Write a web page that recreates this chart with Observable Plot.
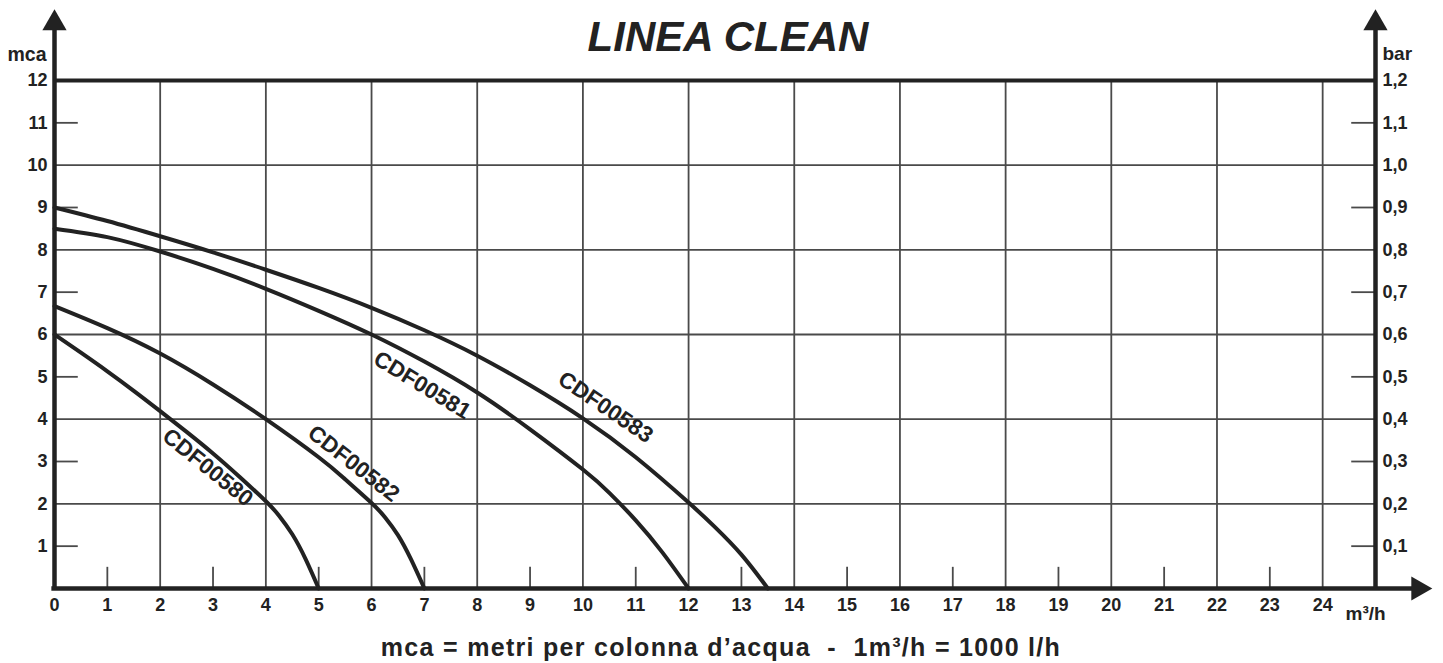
<!DOCTYPE html>
<html><head><meta charset="utf-8">
<script src="https://cdn.jsdelivr.net/npm/d3@7"></script>
<script src="https://cdn.jsdelivr.net/npm/@observablehq/plot@0.6"></script>
<style>body{margin:0;background:#fff} svg{display:block} svg text{white-space:pre}</style>
</head><body><div id="chart"></div>
<script>
// ---- data ----
const title = "LINEA CLEAN";
const caption = "mca = metri per colonna d\u2019acqua  -  1m\u00b3/h = 1000 l/h";
const models = ["CDF00580", "CDF00582", "CDF00581", "CDF00583"];

const q580 = [0, 0.5, 1, 1.5, 2, 2.5, 3, 3.5, 4, 4.25, 4.5, 4.75, 5];
const h580 = [6.0, 5.57, 5.13, 4.67, 4.19, 3.7, 3.19, 2.64, 2.06, 1.72, 1.28, 0.7, 0];
const q582 = [0, 1, 2, 3, 4, 5, 5.5, 6, 6.25, 6.5, 6.75, 7];
const h582 = [6.67, 6.15, 5.55, 4.82, 4.0, 3.1, 2.58, 2.02, 1.69, 1.26, 0.68, 0];
const q581 = [0, 1, 2, 3, 4, 5, 6, 7, 8, 9, 10, 10.5, 11, 11.5, 12];
const h581 = [8.5, 8.3, 7.96, 7.55, 7.08, 6.56, 6.0, 5.36, 4.63, 3.76, 2.81, 2.26, 1.61, 0.86, 0];
const q583 = [0, 1, 2, 3, 4, 5, 6, 7, 8, 9, 10, 11, 12, 12.5, 13, 13.5];
const h583 = [9.0, 8.68, 8.32, 7.94, 7.53, 7.1, 6.63, 6.1, 5.5, 4.8, 4.02, 3.1, 2.03, 1.45, 0.8, 0];

// label anchor (flow, head) and angle for each model
const labelQ = [2.9, 5.66, 6.96, 10.43];
const labelH = [2.86, 2.95, 4.8, 4.28];
const labelAngle = [39, 38, 31.5, 34];

const xTicks = [0,1,2,3,4,5,6,7,8,9,10,11,12,13,14,15,16,17,18,19,20,21,22,23,24];
const xGrid = [2,4,6,8,10,12,14,16,18,20,22,24];
const xMinor = [1,3,5,7,9,11,13,15,17,19,21,23];
const yTicks = [1,2,3,4,5,6,7,8,9,10,11,12];
const yGrid = [2,4,6,8,10];
const yMinor = [1,3,5,7,9,11];
const barLabels = ["0,1","0,2","0,3","0,4","0,5","0,6","0,7","0,8","0,9","1,0","1,1","1,2"];

// ---- build ----
const series = [[q580,h580],[q582,h582],[q581,h581],[q583,h583]];
const curves = series.flatMap(([q,h], i) => q.map((v, j) => ({model: models[i], q: v, h: h[j]})));
const labels = models.map((m, i) => ({model: m, q: labelQ[i], h: labelH[i], a: labelAngle[i]}));

const ink = "#222";
const grid = "#4a4a4a";
const font = "'Liberation Sans', Arial, sans-serif";

const chart = Plot.plot({
  width: 1443, height: 663,
  marginLeft: 54, marginRight: 68, marginTop: 80, marginBottom: 75,
  style: {fontFamily: font, color: ink, background: "#fff"},
  x: {domain: [0, 25], axis: null},
  y: {domain: [0, 12], axis: null},
  marks: [
    // grid
    Plot.ruleX(xGrid, {y1: 0, y2: 12, stroke: grid, strokeWidth: 1.8}),
    Plot.ruleY(yGrid, {x1: 0, x2: 25, stroke: grid, strokeWidth: 1.8}),
    // minor ticks
    Plot.ruleX(xMinor, {y1: 0, y2: 0.5, stroke: grid, strokeWidth: 1.8}),
    Plot.ruleY(yMinor, {x1: 0, x2: 0.45, stroke: grid, strokeWidth: 1.8}),
    Plot.ruleY(yMinor, {x1: 24.55, x2: 25, stroke: grid, strokeWidth: 1.8}),
    // frame lines
    Plot.ruleY([12], {x1: 0, x2: 25, stroke: ink, strokeWidth: 4}),
    Plot.ruleY([0], {x1: -0.05, x2: 25.75, stroke: ink, strokeWidth: 4.5}),
    Plot.ruleX([0], {y1: -0.05, y2: 13.3, stroke: ink, strokeWidth: 4.5}),
    Plot.ruleX([25], {y1: 0, y2: 13.3, stroke: ink, strokeWidth: 4.5}),
    // arrow heads
    Plot.dot([{x: 0, y: 13.35}, {x: 25, y: 13.35}], {x: "x", y: "y", symbol: "triangle", r: 9, fill: ink, stroke: null}),
    Plot.dot([{x: 25.81, y: 0}], {x: "x", y: "y", symbol: "triangle", r: 9, rotate: 90, fill: ink, stroke: null}),
    // curves
    Plot.line(curves, {x: "q", y: "h", z: "model", curve: "natural", stroke: ink, strokeWidth: 4}),
    Plot.text(labels, {x: "q", y: "h", text: "model", rotate: "a", fontSize: 22.5, fontWeight: "bold", fill: ink}),
    // axes labels
    Plot.text(xTicks, {x: d => d, y: 0, text: d => String(d), dy: 17, fontSize: 18, fontWeight: "bold", fill: ink}),
    Plot.text(yTicks, {x: 0, y: d => d, text: d => String(d), dx: -7, textAnchor: "end", fontSize: 18, fontWeight: "bold", fill: ink}),
    Plot.text(yTicks, {x: 25, y: d => d, text: (d, i) => barLabels[i], dx: 7, textAnchor: "start", fontSize: 18, fontWeight: "bold", fill: ink}),
    Plot.text(["mca"], {x: 0, y: 12, text: d => d, dx: -8, dy: -26, textAnchor: "end", fontSize: 19.5, fontWeight: "bold", fill: ink}),
    Plot.text(["bar"], {x: 25, y: 12, text: d => d, dx: 7, dy: -27, textAnchor: "start", fontSize: 19, fontWeight: "bold", fill: ink}),
    Plot.text(["m\u00b3/h"], {x: 25, y: 0, text: d => d, dx: -30, dy: 25, textAnchor: "start", fontSize: 19, fontWeight: "bold", fill: ink}),
    // title & caption
    Plot.text([title], {frameAnchor: "top", lineAnchor: "middle", text: d => d, dx: 13, dy: -43, fontSize: 42, fontWeight: "bold", fontStyle: "italic", fill: ink}),
    Plot.text([caption], {frameAnchor: "bottom", lineAnchor: "middle", text: d => d, dx: 6, dy: 59, fontSize: 25, fontWeight: "bold", fill: ink})
  ]
});
d3.select(chart).selectAll("text").filter(function () { return this.textContent === caption; })
  .style("letter-spacing", "1.3px");
document.getElementById("chart").append(chart);
</script>
</body></html>
